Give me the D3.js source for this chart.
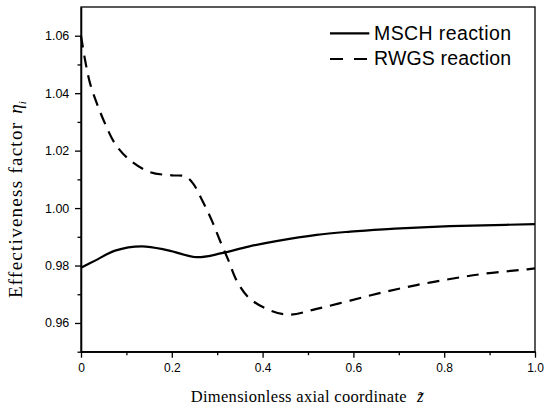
<!DOCTYPE html>
<html>
<head>
<meta charset="utf-8">
<script src="https://cdn.jsdelivr.net/npm/d3@7"></script>
<style>
  body { margin: 0; background: #fff; }
  .axis text { font-family: "Liberation Sans", Arial, sans-serif; fill: #000; }
  .axis path, .axis line { stroke: #000; stroke-width: 1.3; }
</style>
</head>
<body>
<div id="chart"></div>
<script>
// series
var seriesNames = ["MSCH reaction", "RWGS reaction"];

var mschZ = [0, 0.031, 0.075, 0.134, 0.192, 0.255, 0.31, 0.369, 0.43, 0.519, 0.593, 0.666, 0.739, 0.813, 0.886, 1.0];
var mschEta = [0.9792, 0.9817, 0.9852, 0.9867, 0.9853, 0.9829, 0.9843, 0.9866, 0.9885, 0.9907, 0.9918, 0.9926, 0.9932, 0.9937, 0.9940, 0.9944];

var rwgsZ = [0, 0.009, 0.02, 0.035, 0.053, 0.075, 0.104, 0.152, 0.20, 0.23, 0.247, 0.266, 0.288, 0.306, 0.325, 0.343, 0.369, 0.409, 0.457, 0.519, 0.593, 0.666, 0.739, 0.813, 0.886, 0.978, 1.0];
var rwgsEta = [1.0600, 1.0515, 1.0434, 1.0364, 1.0294, 1.0224, 1.0172, 1.0125, 1.0114, 1.0110, 1.0085, 1.0030, 0.9957, 0.9887, 0.9817, 0.9747, 0.9689, 0.9649, 0.9629, 0.9649, 0.9678, 0.9707, 0.9732, 0.9753, 0.9771, 0.9786, 0.9790];

var xTicks = [0, 0.2, 0.4, 0.6, 0.8, 1.0];
var xTickLabels = ["0", "0.2", "0.4", "0.6", "0.8", "1.0"];
var xMinor = [0.1, 0.3, 0.5, 0.7, 0.9];
var yTicks = [0.96, 0.98, 1.00, 1.02, 1.04, 1.06];
var yTickLabels = ["0.96", "0.98", "1.00", "1.02", "1.04", "1.06"];
var yMinor = [0.95, 0.97, 0.99, 1.01, 1.03, 1.05];

var W = 550, H = 417;
var margin = {top: 7, right: 15, bottom: 65.3, left: 81};
var width = W - margin.left - margin.right,
    height = H - margin.top - margin.bottom;

var svg = d3.select("#chart").append("svg")
    .attr("width", W)
    .attr("height", H)
  .append("g")
    .attr("transform", "translate(" + margin.left + "," + margin.top + ")");

var x = d3.scaleLinear().domain([0, 1]).range([0, width]);
var y = d3.scaleLinear().domain([0.95, 1.07]).range([height, 0]);

// minor ticks first, then major
svg.append("g")
    .attr("class", "axis")
    .attr("transform", "translate(0," + height + ")")
    .call(d3.axisBottom(x).tickValues(xMinor).tickSize(3.5).tickSizeOuter(0).tickFormat(""));
svg.append("g")
    .attr("class", "axis")
    .attr("transform", "translate(0," + height + ")")
    .call(d3.axisBottom(x).tickValues(xTicks).tickSize(6).tickSizeOuter(0).tickPadding(5.8)
      .tickFormat(function(d, i) { return xTickLabels[i]; }))
    .selectAll("text").style("font-size", "12px");

svg.append("g")
    .attr("class", "axis")
    .call(d3.axisLeft(y).tickValues(yMinor).tickSize(3.5).tickSizeOuter(0).tickFormat(""));
svg.append("g")
    .attr("class", "axis")
    .call(d3.axisLeft(y).tickValues(yTicks).tickSize(6).tickSizeOuter(0).tickPadding(5.7)
      .tickFormat(function(d, i) { return yTickLabels[i]; }))
    .selectAll("text").style("font-size", "12.5px");

// frame
svg.append("rect")
    .attr("width", width)
    .attr("height", height)
    .style("fill", "none")
    .style("stroke", "#000")
    .style("stroke-width", 1.3);

var line = d3.line()
    .x(function(d) { return x(d[0]); })
    .y(function(d) { return y(d[1]); })
    .curve(d3.curveCatmullRom.alpha(0.5));

var msch = d3.zip(mschZ, mschEta);
var rwgs = d3.zip(rwgsZ, rwgsEta);

svg.append("path")
    .datum(msch)
    .attr("d", line)
    .style("fill", "none")
    .style("stroke", "#000")
    .style("stroke-width", 2.2);

svg.append("path")
    .datum(rwgs)
    .attr("d", line)
    .style("fill", "none")
    .style("stroke", "#000")
    .style("stroke-width", 2.2)
    .style("stroke-dasharray", "12,8");

// legend
var legend = svg.append("g").attr("transform", "translate(" + (330 - margin.left) + "," + (33.3 - margin.top) + ")");
seriesNames.forEach(function(name, i) {
  legend.append("line")
      .attr("x1", 0).attr("x2", 39.3)
      .attr("y1", i * 25.7).attr("y2", i * 25.7)
      .style("stroke", "#000")
      .style("stroke-width", 2.2)
      .style("stroke-dasharray", i === 0 ? null : "13,11");
  legend.append("text")
      .attr("x", 44)
      .attr("y", i * 25.7 + 6.5)
      .attr("textLength", 137)
      .style("font-family", "'Liberation Sans', Arial, sans-serif")
      .style("font-size", "19.5px")
      .text(name);
});

// axis titles
var xt = svg.append("text")
    .attr("x", 190.7 - margin.left)
    .attr("y", 402 - margin.top)
    .style("font-family", "'Liberation Serif', 'Times New Roman', serif")
    .style("font-size", "16.5px");
xt.append("tspan").attr("textLength", 216).text("Dimensionless axial coordinate");
xt.append("tspan").attr("dx", 10).style("font-style", "italic").text("z\u0303");

var yt = svg.append("text")
    .attr("transform", "translate(" + (22 - margin.left) + "," + (298 - margin.top) + ") rotate(-90)")
    .style("font-family", "'Liberation Serif', 'Times New Roman', serif")
    .style("font-size", "19px");
yt.append("tspan").attr("textLength", 175).text("Effectiveness factor");
yt.append("tspan").attr("dx", 8).style("font-style", "italic").text("\u03b7");
yt.append("tspan").attr("dy", 4).style("font-style", "italic").style("font-size", "11px").text("i");
</script>
</body>
</html>
